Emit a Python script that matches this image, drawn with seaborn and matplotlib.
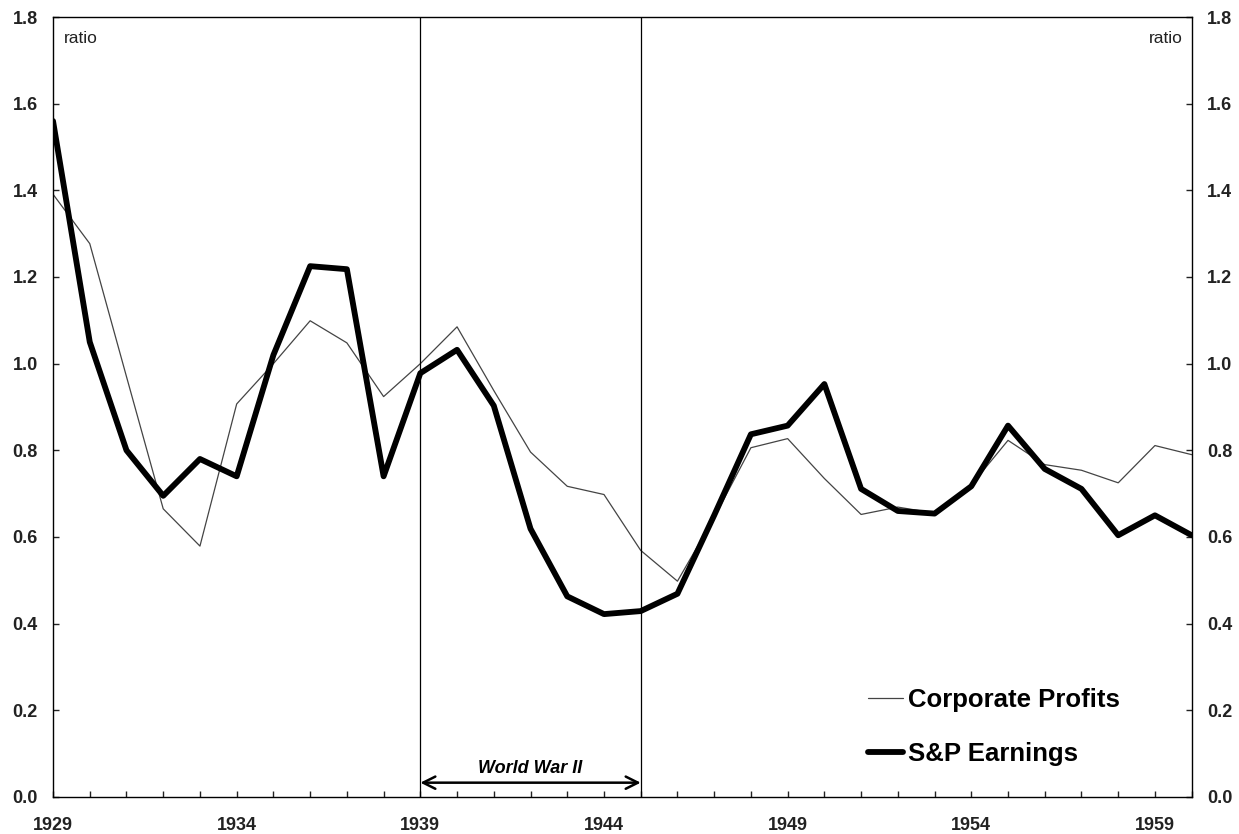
import matplotlib
matplotlib.use("Agg")
import matplotlib.pyplot as plt
from matplotlib.ticker import MultipleLocator, FixedLocator
import seaborn as sns
import pandas as pd

years = list(range(1929, 1961))
corporate_profits = [1.391, 1.277, 0.97, 0.665, 0.579, 0.907, 1.0, 1.099, 1.048, 0.924,
                     1.0, 1.085, 0.938, 0.796, 0.717, 0.698, 0.569, 0.498, 0.645, 0.806,
                     0.827, 0.735, 0.652, 0.669, 0.655, 0.72, 0.823, 0.767, 0.754, 0.725,
                     0.811, 0.79]
sp_earnings = [1.56, 1.05, 0.80, 0.695, 0.78, 0.74, 1.02, 1.225, 1.218, 0.74,
               0.978, 1.032, 0.903, 0.619, 0.463, 0.422, 0.429, 0.469, 0.65, 0.837,
               0.857, 0.953, 0.711, 0.66, 0.654, 0.717, 0.857, 0.757, 0.711, 0.604,
               0.65, 0.604]
major_years = [1929, 1934, 1939, 1944, 1949, 1954, 1959]
war_start, war_end = 1939, 1945
war_label = "World War II"
series_names = ["Corporate Profits", "S&P Earnings"]

sns.set_theme(style="white")
plt.rcParams['font.family'] = ['Liberation Sans', 'DejaVu Sans']

fig = plt.figure(figsize=(12.39, 8.34), dpi=100)
ax = fig.add_axes([0.0428, 0.0444, 0.919, 0.9352])

df = pd.DataFrame({"year": years, "cp": corporate_profits, "sp": sp_earnings})
sns.lineplot(data=df, x="year", y="cp", ax=ax, color="#444444", linewidth=0.9,
             label=series_names[0])
sns.lineplot(data=df, x="year", y="sp", ax=ax, color="black", linewidth=4.2,
             label=series_names[1])

ax.set_xlim(1929, 1960)
ax.set_ylim(0, 1.8)
ax.set_xlabel("")
ax.set_ylabel("")

# War period markers
for yr in (war_start, war_end):
    ax.axvline(yr, color="black", linewidth=0.9)
ax.annotate("", xy=(war_end, 0.033), xytext=(war_start, 0.033),
            arrowprops=dict(arrowstyle="<->", color="black", lw=1.8,
                            mutation_scale=22, shrinkA=0, shrinkB=0))
ax.text((war_start + war_end) / 2, 0.066, war_label, ha="center", va="center",
        fontsize=13, fontweight="bold", fontstyle="italic", color="black")

# Ticks
ax.yaxis.set_major_locator(MultipleLocator(0.2))
ax.xaxis.set_major_locator(FixedLocator(major_years))
ax.xaxis.set_minor_locator(MultipleLocator(1))
ax.yaxis.set_major_formatter(matplotlib.ticker.FormatStrFormatter('%.1f'))
ax.tick_params(axis='y', which='both', direction='in', length=4, width=1,
               left=True, right=True, labelleft=True, labelright=True,
               labelsize=13, pad=11, colors='#222222')
ax.tick_params(axis='x', which='major', direction='in', length=4, width=1,
               bottom=True, labelsize=13, pad=14.5, colors='#222222')
ax.tick_params(axis='x', which='minor', direction='in', length=4, width=1,
               bottom=True, color='#222222')
for lab in ax.get_xticklabels() + ax.get_yticklabels():
    lab.set_fontweight("bold")
for t in ax.yaxis.get_major_ticks():
    t.label2.set_fontweight("bold")
    t.label2.set_color('#222222')

for sp in ax.spines.values():
    sp.set_visible(True)
    sp.set_color("black")
    sp.set_linewidth(1.0)

ax.text(0.0097, 0.973, "ratio", transform=ax.transAxes, ha="left", va="center",
        fontsize=12.5, color="#222222")
ax.text(0.992, 0.973, "ratio", transform=ax.transAxes, ha="right", va="center",
        fontsize=12.5, color="#222222")

leg = ax.legend(loc="upper left", bbox_to_anchor=(0.7155, 0.140), frameon=False,
                fontsize=18.5, handlelength=1.36, handletextpad=0.2,
                labelspacing=1.17, borderpad=0, borderaxespad=0)
for txt in leg.get_texts():
    txt.set_fontweight("bold")
    txt.set_color("black")

fig.savefig("out.png", dpi=100, facecolor="white")
